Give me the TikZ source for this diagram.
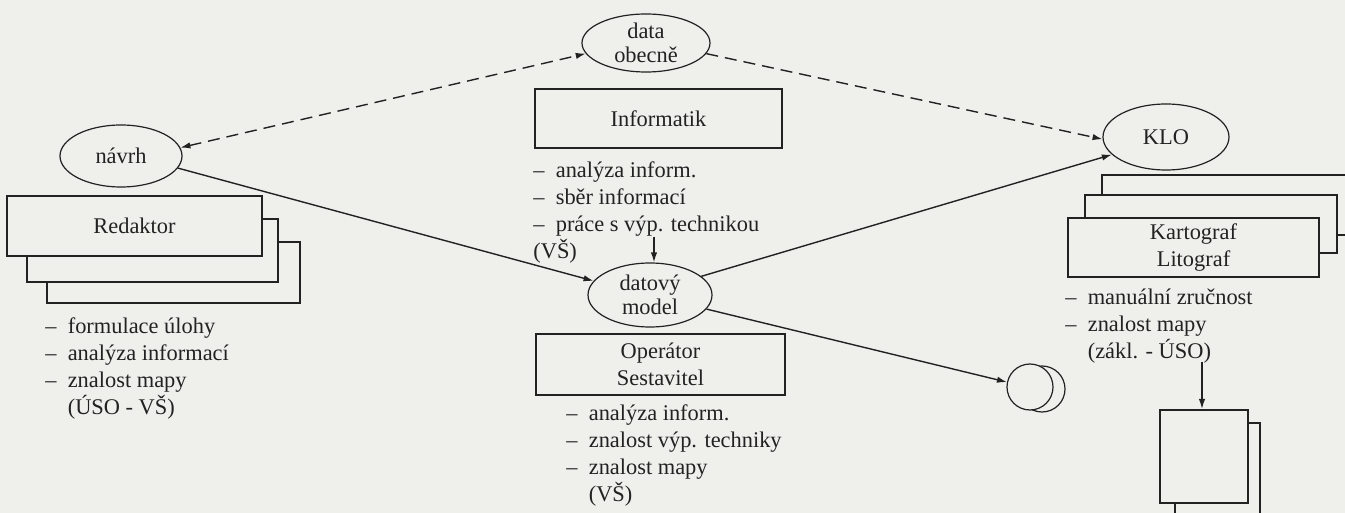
\documentclass[tikz,border=0pt]{standalone}
\usepackage{fontspec}
\setmainfont{Liberation Serif}
\usetikzlibrary{shapes.geometric,arrows.meta}
\definecolor{paper}{HTML}{EFEFEC}
\definecolor{ink}{HTML}{222222}
\newcommand\dashitem{–\enspace}
\newcommand\dashgap{\hphantom{–\enspace}}

\begin{document}
\begin{tikzpicture}[x=0.5pt,y=-0.5pt,
  every node/.style={text=ink, font=\fontsize{11.2}{13.5}\selectfont},
  oval/.style={draw=ink, line width=0.6pt, ellipse, inner sep=0pt, align=center, fill=paper,
    font=\fontsize{11.2}{12}\selectfont},
  role/.style={draw=ink, line width=1pt, rectangle, inner sep=0pt, fill=paper, align=center},
  sheet/.style={draw=ink, line width=1pt, fill=paper},
  skills/.style={anchor=north west, inner sep=0pt, align=left},
  link/.style={draw=ink, line width=0.7pt, -{Latex[length=5pt,width=3.2pt]}},
  dashlink/.style={link, dash pattern=on 6pt off 3.5pt}
]
\fill[paper] (0,0) rectangle (1345,513);
\useasboundingbox (0,0) rectangle (1345,513);
\clip (0,0) rectangle (1345,513);

% --- left: design and editor ---------------------------------------
\node[oval, minimum width=61pt, minimum height=31pt] (navrh) at (121,156) {návrh};
\node[role, minimum width=126.5pt, minimum height=30.5pt] (red3) at (173.5,272.5) {};
\node[role, minimum width=125.5pt, minimum height=31.5pt] (red2) at (152.5,250.5) {};
\node[role, minimum width=127.5pt, minimum height=30pt] (red1) at (134.5,226) {Redaktor};
\node[skills] (redList) at (45,317)
  {\dashitem formulace úlohy\\\dashitem analýza informací\\\dashitem znalost mapy\\\dashgap(ÚSO - VŠ)};

% --- middle: data, informatics, operator ---------------------------
\node[oval, minimum width=64pt, minimum height=29pt] (data) at (646,43) {data\\obecně};
\node[role, minimum width=123.5pt, minimum height=29.5pt] (info) at (658.5,118.5) {Informatik};
\node[skills] (infoList) at (533,161)
  {\dashitem analýza inform.\\\dashitem sběr informací\\\dashitem práce s výp. technikou\\(VŠ)};
\node[oval, minimum width=62pt, minimum height=32pt] (model) at (650,295) {datový\\model};
\node[role, minimum width=124.5pt, minimum height=30.5pt] (oper) at (660.5,364.5)
  {Operátor\\Sestavitel};
\node[skills] (operList) at (566,404)
  {\dashitem analýza inform.\\\dashitem znalost výp. techniky\\\dashitem znalost mapy\\\dashgap(VŠ)};

% --- right: KLO, cartographer, print -------------------------------
\node[oval, minimum width=63pt, minimum height=33pt] (klo) at (1166,137) {KLO};
\draw[sheet] (1102,260) -- (1102,175) -- (1360,175);
\node[role, minimum width=126pt, minimum height=29pt] (kart2) at (1211,224) {};
\node[role, minimum width=125.5pt, minimum height=29.5pt] (kart1) at (1193.5,247.5)
  {Kartograf\\Litograf};
\node[skills] (kartList) at (1065,289)
  {\dashitem manuální zručnost\\\dashitem znalost mapy\\\dashgap(zákl. - ÚSO)};
\coordinate (offpage) at (1352,235);
\draw[draw=ink, line width=1pt] (kart2.east |- offpage) -- (offpage);

\draw[sheet] (1175,530) -- (1175,423) -- (1260,423) -- (1260,530);
\node[role, minimum width=44pt, minimum height=46.5pt] (print) at (1204,456.5) {};

% output medium: two overlapping discs
\node[draw=ink, line width=0.6pt, circle, fill=paper, minimum size=23pt, inner sep=0pt] (disc2) at (1042,389) {};
\node[draw=ink, line width=0.6pt, circle, fill=paper, minimum size=23pt, inner sep=0pt] (disc1) at (1030,387) {};

% --- connectors -----------------------------------------------------
\draw[dashlink, {Latex[length=5pt,width=3.2pt]}-{Latex[length=5pt,width=3.2pt]}] (navrh.8) -- (data.190);
\draw[dashlink] (data.-10) -- (klo.182);
\draw[link] (navrh.-12) -- (model.166);
\coordinate (infoDown) at (654,237);
\draw[link] (infoDown) -- (model.north -| infoDown);
\draw[link] (model.20) -- (klo.198);
\draw[link] (model.-14) -- (disc1.168);
\coordinate (kartDown) at (1202,362);
\draw[link] (kartDown) -- (print.north -| kartDown);
\end{tikzpicture}
\end{document}
